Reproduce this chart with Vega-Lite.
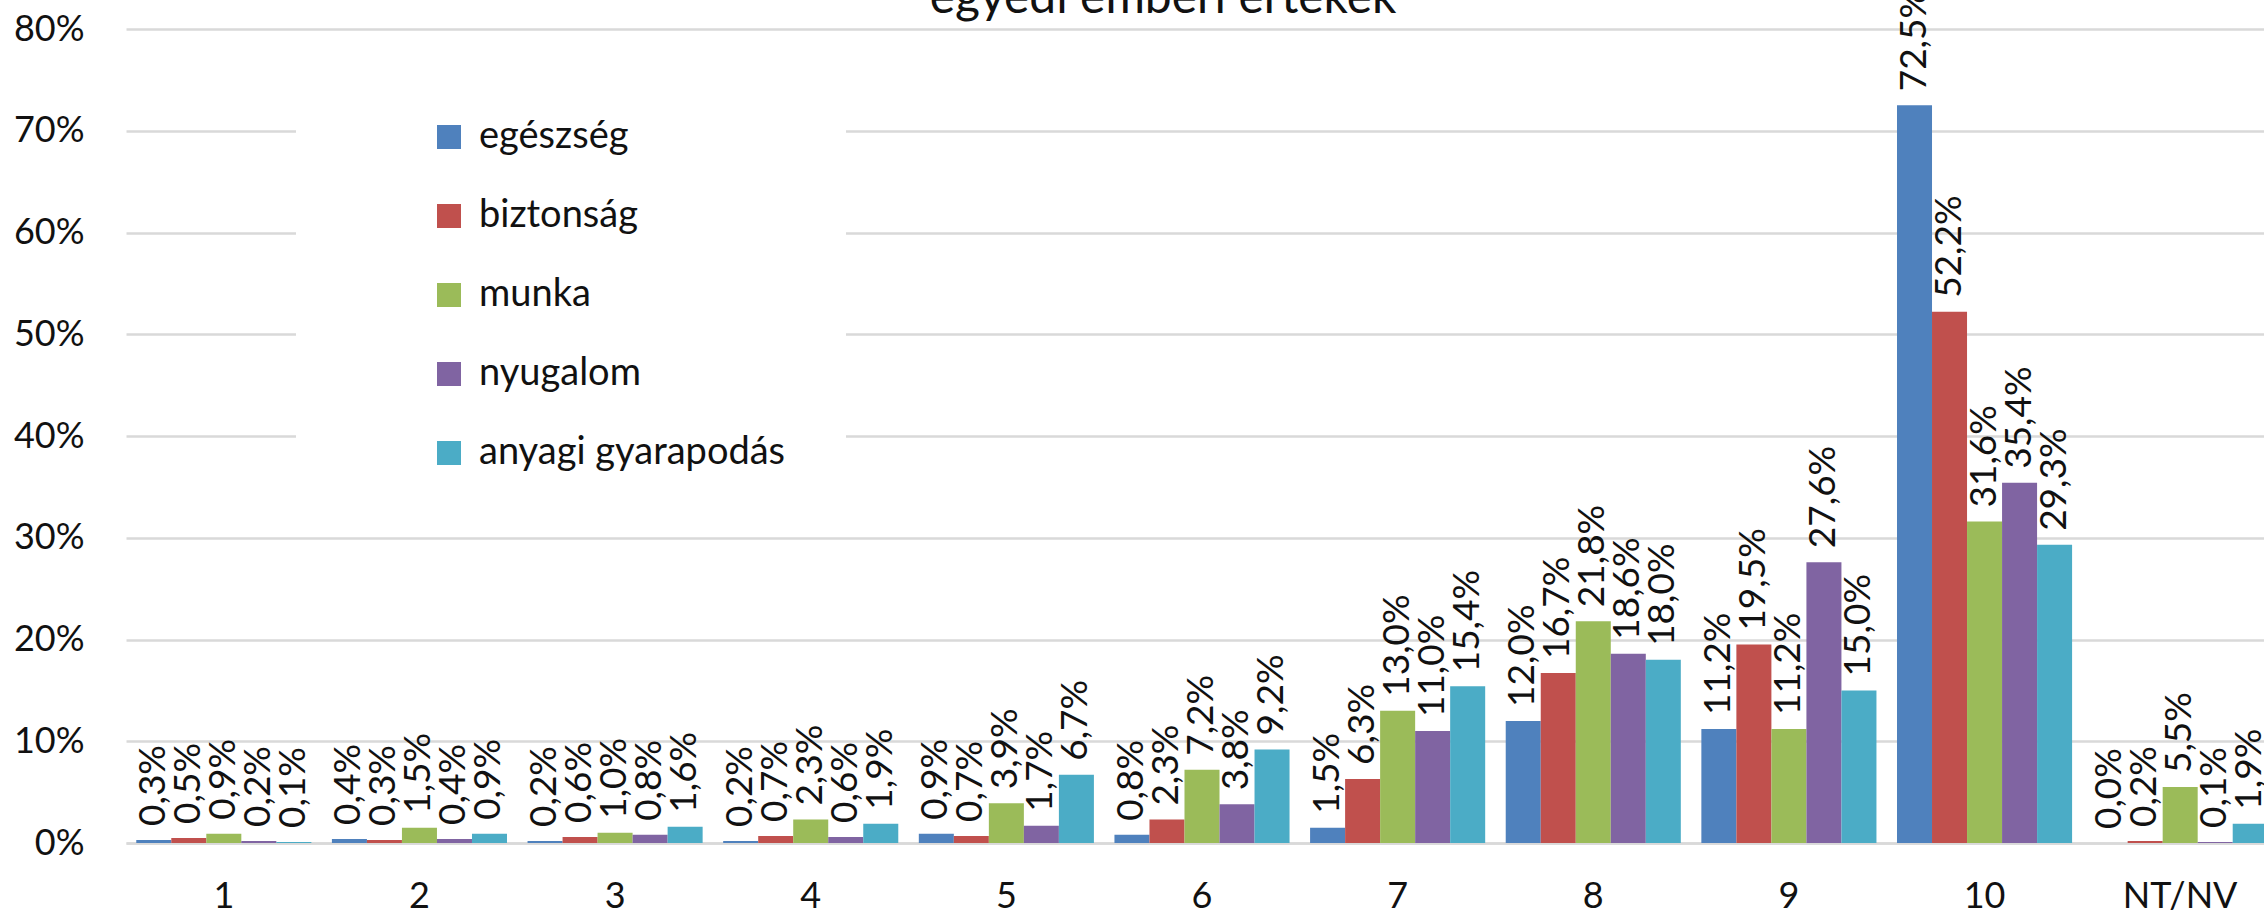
{
  "$schema": "https://vega.github.io/schema/vega-lite/v6.json",
  "autosize": {"type": "none"},
  "width": 2138,
  "height": 814,
  "padding": {"left": 126, "top": 29, "right": 0, "bottom": 73},
  "background": "white",
  "title": {
    "text": "egyedi emberi értékek",
    "font": "Lato",
    "fontSize": 48,
    "fontWeight": "normal",
    "color": "#111111",
    "anchor": "middle",
    "frame": "group",
    "dx": -32,
    "dy": 42,
    "offset": 8
  },
  "data": {
    "values": [
      {"cat": "1", "series": "egészség", "value": 0.003},
      {"cat": "1", "series": "biztonság", "value": 0.005},
      {"cat": "1", "series": "munka", "value": 0.009},
      {"cat": "1", "series": "nyugalom", "value": 0.002},
      {"cat": "1", "series": "anyagi gyarapodás", "value": 0.001},
      {"cat": "2", "series": "egészség", "value": 0.004},
      {"cat": "2", "series": "biztonság", "value": 0.003},
      {"cat": "2", "series": "munka", "value": 0.015},
      {"cat": "2", "series": "nyugalom", "value": 0.004},
      {"cat": "2", "series": "anyagi gyarapodás", "value": 0.009},
      {"cat": "3", "series": "egészség", "value": 0.002},
      {"cat": "3", "series": "biztonság", "value": 0.006},
      {"cat": "3", "series": "munka", "value": 0.010},
      {"cat": "3", "series": "nyugalom", "value": 0.008},
      {"cat": "3", "series": "anyagi gyarapodás", "value": 0.016},
      {"cat": "4", "series": "egészség", "value": 0.002},
      {"cat": "4", "series": "biztonság", "value": 0.007},
      {"cat": "4", "series": "munka", "value": 0.023},
      {"cat": "4", "series": "nyugalom", "value": 0.006},
      {"cat": "4", "series": "anyagi gyarapodás", "value": 0.019},
      {"cat": "5", "series": "egészség", "value": 0.009},
      {"cat": "5", "series": "biztonság", "value": 0.007},
      {"cat": "5", "series": "munka", "value": 0.039},
      {"cat": "5", "series": "nyugalom", "value": 0.017},
      {"cat": "5", "series": "anyagi gyarapodás", "value": 0.067},
      {"cat": "6", "series": "egészség", "value": 0.008},
      {"cat": "6", "series": "biztonság", "value": 0.023},
      {"cat": "6", "series": "munka", "value": 0.072},
      {"cat": "6", "series": "nyugalom", "value": 0.038},
      {"cat": "6", "series": "anyagi gyarapodás", "value": 0.092},
      {"cat": "7", "series": "egészség", "value": 0.015},
      {"cat": "7", "series": "biztonság", "value": 0.063},
      {"cat": "7", "series": "munka", "value": 0.130},
      {"cat": "7", "series": "nyugalom", "value": 0.110},
      {"cat": "7", "series": "anyagi gyarapodás", "value": 0.154},
      {"cat": "8", "series": "egészség", "value": 0.120},
      {"cat": "8", "series": "biztonság", "value": 0.167},
      {"cat": "8", "series": "munka", "value": 0.218},
      {"cat": "8", "series": "nyugalom", "value": 0.186},
      {"cat": "8", "series": "anyagi gyarapodás", "value": 0.180},
      {"cat": "9", "series": "egészség", "value": 0.112},
      {"cat": "9", "series": "biztonság", "value": 0.195},
      {"cat": "9", "series": "munka", "value": 0.112},
      {"cat": "9", "series": "nyugalom", "value": 0.276},
      {"cat": "9", "series": "anyagi gyarapodás", "value": 0.150},
      {"cat": "10", "series": "egészség", "value": 0.725},
      {"cat": "10", "series": "biztonság", "value": 0.522},
      {"cat": "10", "series": "munka", "value": 0.316},
      {"cat": "10", "series": "nyugalom", "value": 0.354},
      {"cat": "10", "series": "anyagi gyarapodás", "value": 0.293},
      {"cat": "NT/NV", "series": "egészség", "value": 0.000},
      {"cat": "NT/NV", "series": "biztonság", "value": 0.002},
      {"cat": "NT/NV", "series": "munka", "value": 0.055},
      {"cat": "NT/NV", "series": "nyugalom", "value": 0.001},
      {"cat": "NT/NV", "series": "anyagi gyarapodás", "value": 0.019}
    ]
  },
  "encoding": {
    "x": {
      "field": "cat",
      "type": "nominal",
      "sort": ["1", "2", "3", "4", "5", "6", "7", "8", "9", "10", "NT/NV"],
      "scale": {"range": [0, 2152], "paddingInner": 0.105, "paddingOuter": 0.0525},
      "axis": {
        "title": null,
        "labelAngle": 0,
        "labelFont": "Lato",
        "labelFontSize": 36,
        "labelColor": "#111111",
        "labelPadding": 36,
        "ticks": false,
        "domain": true,
        "domainColor": "#d9d9d9",
        "domainWidth": 2.5,
        "grid": false
      }
    },
    "xOffset": {
      "field": "series",
      "type": "nominal",
      "sort": ["egészség", "biztonság", "munka", "nyugalom", "anyagi gyarapodás"],
      "scale": {"paddingInner": 0, "paddingOuter": 0}
    },
    "y": {
      "field": "value",
      "type": "quantitative",
      "scale": {"domain": [0, 0.8], "nice": false},
      "axis": {
        "title": null,
        "format": ".0%",
        "values": [0, 0.1, 0.2, 0.3, 0.4, 0.5, 0.6, 0.7, 0.8],
        "labelFont": "Lato",
        "labelFontSize": 36,
        "labelColor": "#111111",
        "labelPadding": 42,
        "ticks": false,
        "domain": false,
        "grid": true,
        "gridColor": "#d9d9d9",
        "gridWidth": 2.5
      }
    }
  },
  "layer": [
    {
      "mark": {"type": "bar"},
      "encoding": {
        "color": {
          "field": "series",
          "type": "nominal",
          "sort": ["egészség", "biztonság", "munka", "nyugalom", "anyagi gyarapodás"],
          "scale": {
            "domain": ["egészség", "biztonság", "munka", "nyugalom", "anyagi gyarapodás"],
            "range": ["#4F81BD", "#C0504D", "#9BBB59", "#8064A2", "#4BACC6"]
          },
          "legend": {
            "title": null,
            "orient": "none",
            "legendX": 170,
            "legendY": 29,
            "fillColor": "white",
            "padding": 60,
            "symbolOffset": 74,
            "symbolType": "square",
            "symbolSize": 576,
            "symbolStrokeWidth": 0,
            "labelFont": "Lato",
            "labelFontSize": 38,
            "labelColor": "#111111",
            "labelOffset": 11,
            "labelLimit": 600,
            "rowPadding": 41
          }
        }
      }
    },
    {
      "mark": {
        "type": "text",
        "angle": 270,
        "align": "left",
        "baseline": "middle",
        "dx": 14,
        "font": "Lato",
        "fontSize": 37,
        "color": "#111111"
      },
      "encoding": {
        "text": {"field": "value", "type": "quantitative", "format": ".1%"}
      }
    }
  ],
  "config": {
    "locale": {
      "number": {
        "decimal": ",",
        "thousands": " ",
        "grouping": [3],
        "currency": ["", " Ft"]
      }
    },
    "view": {"stroke": null}
  }
}
